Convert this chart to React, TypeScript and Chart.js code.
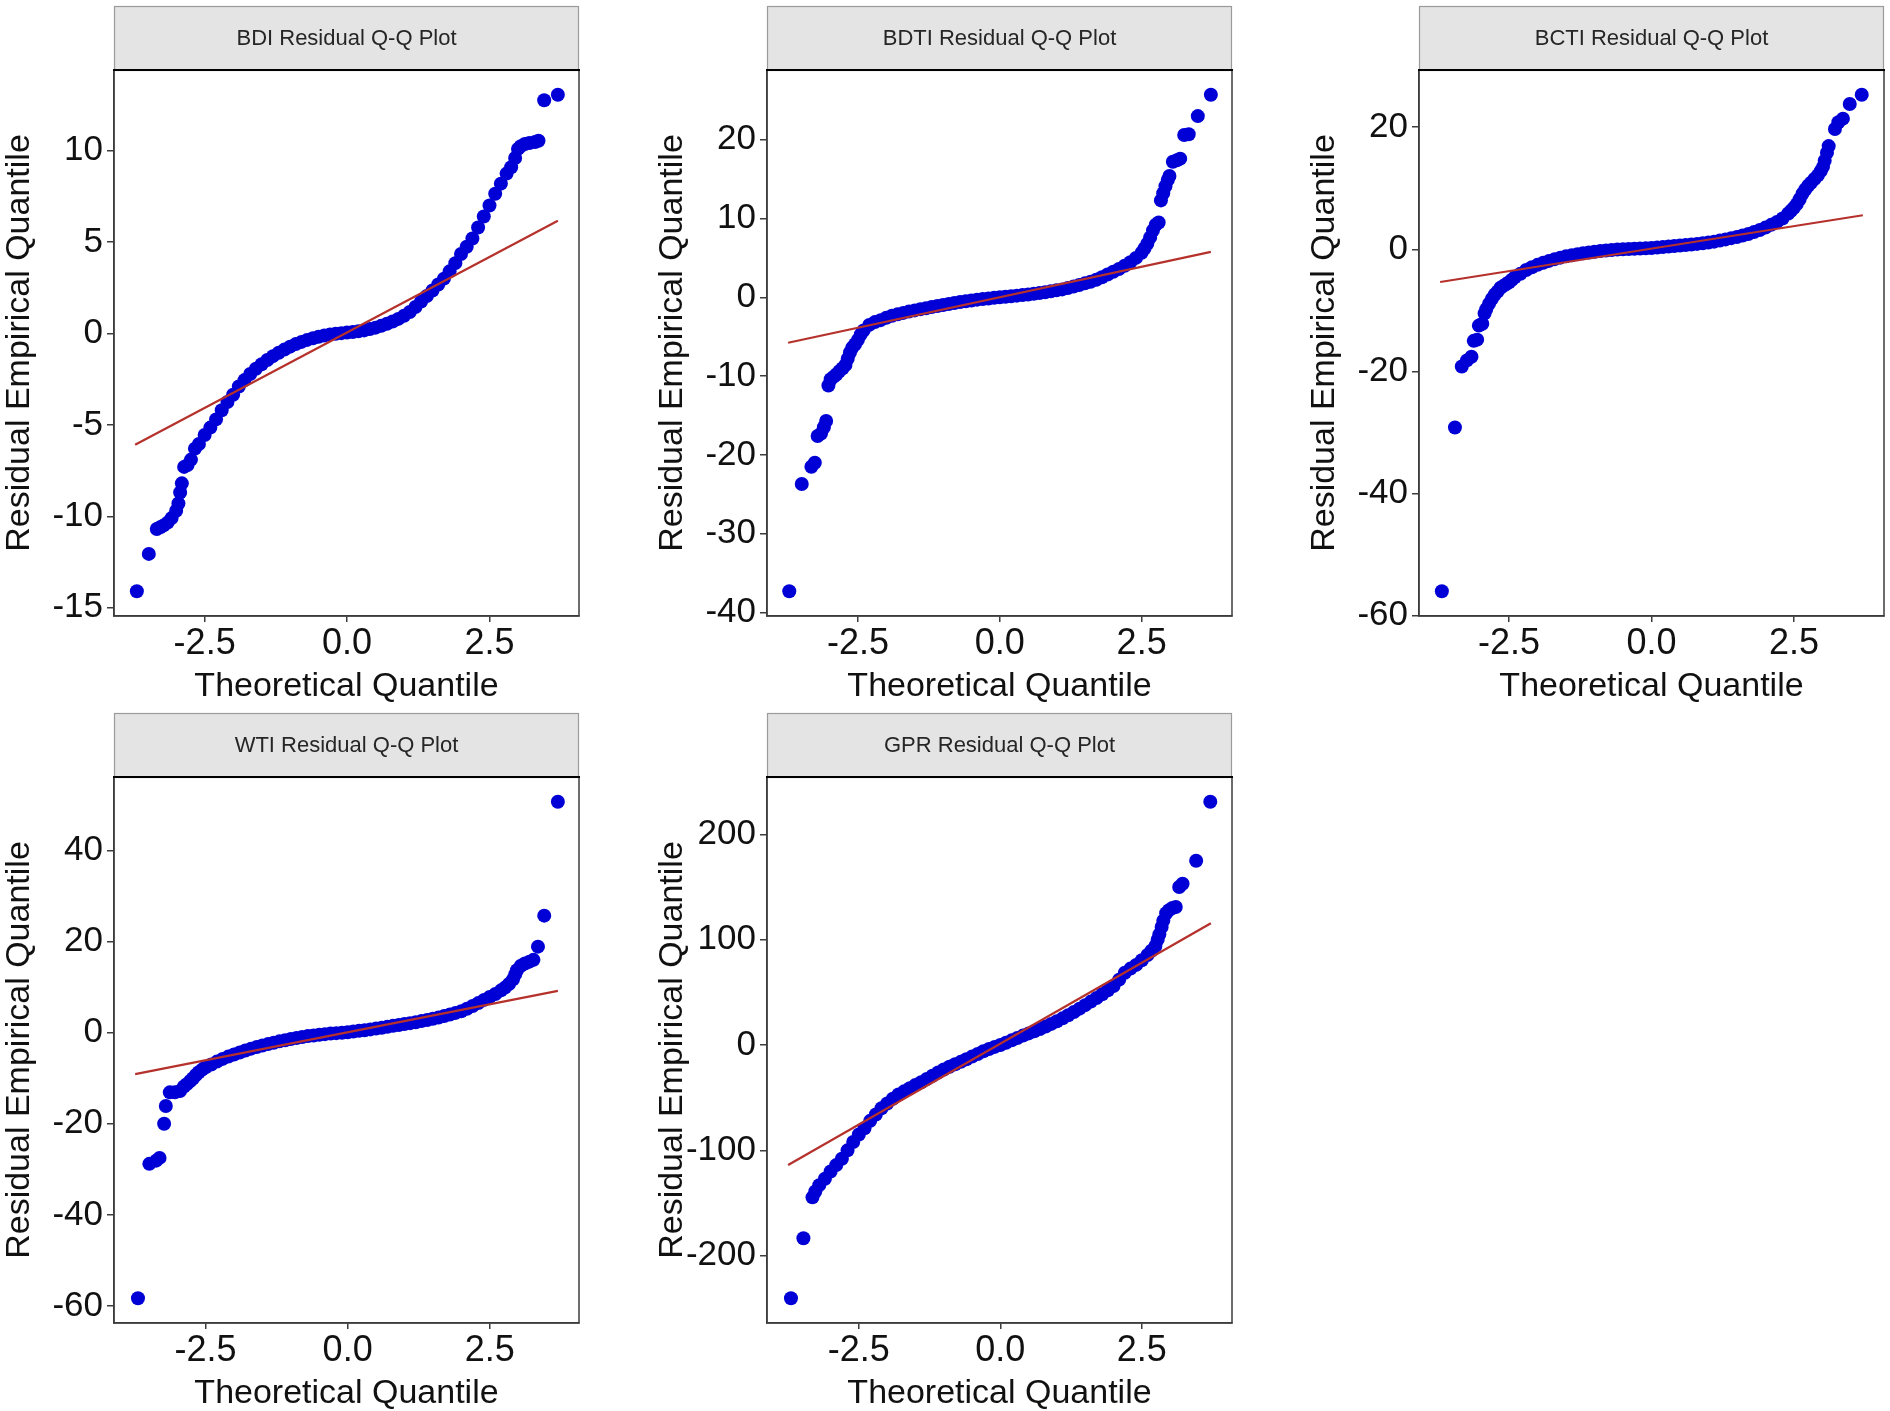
import React, { useRef, useEffect } from 'react';
import { Chart, registerables } from 'chart.js';

Chart.register(...registerables);

const FONT = '"Liberation Sans", Arial, Helvetica, sans-serif';

// shared x ticks
const xTicks = [-2.5, 0, 2.5];

// BDI
const bdiQ = [
    -3.69, -3.48, -3.34, -3.28, -3.22, -3.15, -3.08, -3.0, -2.96, -2.93, -2.9, -2.86, -2.8, -2.74, -2.67, -2.6,
    -2.5, -2.4, -2.3, -2.2, -2.1, -2.0, -1.9, -1.8, -1.7, -1.6, -1.5, -1.4, -1.3, -1.2, -1.1, -1.0,
    -0.9, -0.8, -0.7, -0.6, -0.5, -0.4, -0.3, -0.2, -0.1, 0.0, 0.1, 0.2, 0.3, 0.4, 0.5, 0.6, 0.7, 0.8, 0.9,
    1.0, 1.1, 1.2, 1.3, 1.4, 1.5, 1.6, 1.7, 1.8, 1.9, 2.0, 2.1, 2.2, 2.3, 2.4, 2.5,
    2.6, 2.7, 2.8, 2.88, 2.95, 3.0, 3.05, 3.12, 3.2, 3.3, 3.36, 3.46, 3.7,
];
const bdiR = [
    -14.1, -12.06, -10.7, -10.6, -10.5, -10.35, -10.1, -9.7, -9.3, -8.7, -8.2, -7.3, -7.2, -6.9, -6.3, -6.05,
    -5.55, -5.15, -4.7, -4.2, -3.75, -3.35, -2.9, -2.55, -2.22, -1.93, -1.68, -1.45, -1.24, -1.05, -0.88, -0.72,
    -0.58, -0.46, -0.35, -0.26, -0.18, -0.11, -0.05, -0.01, 0.02, 0.05, 0.08, 0.12, 0.17, 0.24, 0.32, 0.42, 0.53, 0.66, 0.8,
    0.97, 1.18, 1.45, 1.75, 2.05, 2.35, 2.68, 3.0, 3.4, 3.85, 4.35, 4.75, 5.2, 5.8, 6.4, 7.0,
    7.65, 8.2, 8.75, 9.1, 9.6, 10.1, 10.25, 10.37, 10.42, 10.48, 10.55, 12.76, 13.06,
];
const bdiLineQ = [-3.72, 3.7];
const bdiLineR = [-6.09, 6.17];
const bdiTicks = [-15, -10, -5, 0, 5, 10];

// BDTI
const bdtiQ = [
    -3.71, -3.49, -3.32, -3.26, -3.21, -3.15, -3.1, -3.06, -3.02, -2.98, -2.93, -2.88, -2.83, -2.77, -2.72, -2.68,
    -2.64, -2.6, -2.55, -2.5, -2.45, -2.4, -2.3, -2.2, -2.1, -2.0, -1.9, -1.8, -1.7, -1.6, -1.5, -1.4, -1.3, -1.2, -1.1, -1.0,
    -0.9, -0.8, -0.7, -0.6, -0.5, -0.4, -0.3, -0.2, -0.1, 0.0, 0.1, 0.2, 0.3, 0.4, 0.5, 0.6, 0.7, 0.8, 0.9,
    1.0, 1.1, 1.2, 1.3, 1.4, 1.5, 1.6, 1.7, 1.8, 1.9, 2.0, 2.1, 2.2, 2.3, 2.4, 2.5,
    2.55, 2.6, 2.65, 2.7, 2.75, 2.8, 2.84, 2.88, 2.92, 2.96, 2.99, 3.05, 3.12, 3.18, 3.25, 3.33, 3.49, 3.72,
];
const bdtiR = [
    -37.3, -23.7, -21.5, -21.0, -17.6, -17.3, -16.5, -15.7, -11.2, -10.4, -10.1, -9.8, -9.4, -9.0, -8.6, -7.8,
    -7.0, -6.4, -5.95, -5.4, -4.7, -4.2, -3.5, -3.15, -2.9, -2.6, -2.35, -2.15, -1.98, -1.8, -1.66, -1.52, -1.38, -1.24, -1.1, -0.97,
    -0.85, -0.72, -0.6, -0.5, -0.4, -0.3, -0.22, -0.15, -0.07, 0.0, 0.07, 0.14, 0.21, 0.28, 0.36, 0.45, 0.55, 0.65, 0.76,
    0.88, 1.0, 1.18, 1.37, 1.56, 1.77, 1.98, 2.22, 2.55, 2.9, 3.25, 3.6, 4.0, 4.45, 5.0, 5.65,
    6.2, 6.8, 7.6, 8.5, 9.2, 9.5, 12.3, 13.2, 14.1, 14.9, 15.4, 17.2, 17.4, 17.6, 20.6, 20.7, 23.0, 25.7,
];
const bdtiLineQ = [-3.73, 3.72];
const bdtiLineR = [-5.77, 5.77];
const bdtiTicks = [-40, -30, -20, -10, 0, 10, 20];

// BCTI
const bctiQ = [
    -3.68, -3.45, -3.33, -3.24, -3.16, -3.12, -3.06, -3.03, -2.97, -2.93, -2.9, -2.85, -2.8, -2.75, -2.7, -2.65,
    -2.6, -2.55, -2.5, -2.45, -2.4, -2.3, -2.2, -2.1, -2.0, -1.9, -1.8, -1.7, -1.6, -1.5, -1.4, -1.3, -1.2, -1.1, -1.0,
    -0.9, -0.8, -0.7, -0.6, -0.5, -0.4, -0.3, -0.2, -0.1, 0.0, 0.1, 0.2, 0.3, 0.4, 0.5, 0.6, 0.7, 0.8, 0.9,
    1.0, 1.1, 1.2, 1.3, 1.4, 1.5, 1.6, 1.7, 1.8, 1.9, 2.0, 2.1, 2.2, 2.3, 2.4, 2.45, 2.5,
    2.55, 2.6, 2.65, 2.7, 2.75, 2.8, 2.86, 2.92, 2.97, 3.01, 3.04, 3.08, 3.11, 3.22, 3.28, 3.36, 3.48, 3.69,
];
const bctiR = [
    -56.0, -29.2, -19.2, -18.2, -17.6, -15.0, -14.8, -12.5, -12.2, -10.5, -9.8, -8.9, -8.1, -7.4, -6.9, -6.3,
    -6.0, -5.7, -5.4, -5.0, -4.6, -4.0, -3.4, -2.95, -2.55, -2.2, -1.9, -1.62, -1.37, -1.15, -0.97, -0.8, -0.65, -0.52, -0.4,
    -0.3, -0.2, -0.12, -0.05, 0.0, 0.04, 0.08, 0.12, 0.17, 0.22, 0.29, 0.36, 0.44, 0.52, 0.6, 0.69, 0.78, 0.88, 0.98,
    1.1, 1.25, 1.43, 1.62, 1.82, 2.02, 2.25, 2.5, 2.82, 3.15, 3.55, 4.0, 4.45, 5.05, 5.85, 6.3, 6.8,
    7.4, 8.2, 9.1, 9.8, 10.4, 10.9, 11.5, 12.1, 12.8, 13.5, 14.5, 15.8, 16.9, 19.7, 20.8, 21.4, 23.8, 25.3,
];
const bctiLineQ = [-3.71, 3.71];
const bctiLineR = [-5.36, 5.58];
const bctiTicks = [-60, -40, -20, 0, 20];

// WTI
const wtiQ = [
    -3.69, -3.49, -3.37, -3.31, -3.23, -3.2, -3.13, -3.04, -2.95, -2.88, -2.83, -2.77, -2.72, -2.67, -2.62, -2.56,
    -2.5, -2.4, -2.3, -2.2, -2.1, -2.0, -1.9, -1.8, -1.7, -1.6, -1.5, -1.4, -1.3, -1.2, -1.1, -1.0,
    -0.9, -0.8, -0.7, -0.6, -0.5, -0.4, -0.3, -0.2, -0.1, 0.0, 0.1, 0.2, 0.3, 0.4, 0.5, 0.6, 0.7, 0.8, 0.9,
    1.0, 1.1, 1.2, 1.3, 1.4, 1.5, 1.6, 1.7, 1.8, 1.9, 2.0, 2.1, 2.2, 2.3, 2.4, 2.5,
    2.6, 2.7, 2.77, 2.84, 2.91, 2.95, 2.98, 3.05, 3.12, 3.2, 3.27, 3.35, 3.46, 3.7,
];
const wtiR = [
    -58.3, -28.8, -28.1, -27.5, -20.0, -16.1, -13.1, -13.1, -12.8, -11.8, -11.3, -10.6, -10.0, -9.3, -8.7, -8.1,
    -7.6, -7.0, -6.35, -5.75, -5.25, -4.8, -4.35, -3.9, -3.5, -3.15, -2.8, -2.5, -2.2, -1.9, -1.65, -1.4,
    -1.15, -0.95, -0.75, -0.6, -0.45, -0.32, -0.2, -0.1, 0.0, 0.1, 0.25, 0.4, 0.55, 0.72, 0.9, 1.1, 1.3, 1.5, 1.7,
    1.9, 2.1, 2.3, 2.55, 2.8, 3.05, 3.35, 3.65, 4.0, 4.35, 4.7, 5.25, 5.85, 6.5, 7.2, 7.85,
    8.5, 9.3, 9.9, 10.7, 11.7, 12.8, 13.7, 14.7, 15.2, 15.6, 16.0, 18.9, 25.7, 50.7,
];
const wtiLineQ = [-3.74, 3.7];
const wtiLineR = [-9.1, 9.2];
const wtiTicks = [-60, -40, -20, 0, 20, 40];

// GPR
const gprQ = [
    -3.7, -3.48, -3.32, -3.27, -3.2, -3.1, -3.0, -2.9, -2.8, -2.7, -2.6,
    -2.5, -2.4, -2.3, -2.2, -2.1, -2.0, -1.9, -1.8, -1.7, -1.6, -1.5, -1.4, -1.3, -1.2, -1.1, -1.0,
    -0.9, -0.8, -0.7, -0.6, -0.5, -0.4, -0.3, -0.2, -0.1, 0.0, 0.1, 0.2, 0.3, 0.4, 0.5, 0.6, 0.7, 0.8, 0.9,
    1.0, 1.1, 1.2, 1.3, 1.4, 1.5, 1.6, 1.7, 1.8, 1.9, 2.0, 2.1, 2.2, 2.3, 2.4, 2.5,
    2.6, 2.67, 2.74, 2.78, 2.81, 2.85, 2.88, 2.93, 2.98, 3.04, 3.1, 3.16, 3.22, 3.46, 3.71,
];
const gprR = [
    -240.3, -183.4, -144.6, -139, -133, -127, -120, -114, -108, -100, -92,
    -85, -79, -72, -66, -60, -55.5, -51, -47, -44, -41, -38, -35.4, -32.3, -29.2, -26.1, -23.2,
    -20.6, -18.3, -16, -13.5, -11, -8.5, -6, -3.8, -1.8, 0, 2.2, 4.4, 6.6, 8.9, 11, 13, 15.1, 17.6, 20,
    22.6, 25.3, 28.2, 31.3, 34.5, 37.8, 41.2, 44.6, 48.2, 52, 56, 62, 68.5, 72.5, 76, 80.5,
    85.4, 89.5, 94, 100, 105, 112, 118, 125, 128, 130, 131, 150, 153, 174.8, 230.8,
];
const gprLineQ = [-3.75, 3.72];
const gprLineR = [-113.9, 115.6];
const gprTicks = [-200, -100, 0, 100, 200];

const CANVAS_W = 586;
const CANVAS_H = 704;
const STRIP_TOP = 6;
const PLOT_TOP = 70;

type PanelProps = {
    title: string;
    q: number[];
    r: number[];
    lineQ: number[];
    lineR: number[];
    yTicks: number[];
    left: number;
    top: number;
};

const QQPanel: React.FC<PanelProps> = ({ title, q, r, lineQ, lineR, yTicks, left, top }) => {
    const chartRef = useRef<HTMLCanvasElement | null>(null);

    useEffect(() => {
        if (!chartRef.current) return;
        const ctx = chartRef.current.getContext('2d');
        if (!ctx) return;

        // ggplot-like 5% expansion around the data
        const allQ = [...q, ...lineQ];
        const allR = [...r, ...lineR];
        const qMin = Math.min(...allQ), qMax = Math.max(...allQ);
        const rMin = Math.min(...allR), rMax = Math.max(...allR);
        const qPad = (qMax - qMin) * 0.05;
        const rPad = (rMax - rMin) * 0.05;

        const stripPlugin = {
            id: 'facetStrip',
            afterDraw(chart: Chart) {
                const a = chart.chartArea;
                const c = chart.ctx;
                c.save();
                c.fillStyle = '#e4e4e4';
                c.fillRect(a.left, STRIP_TOP, a.right - a.left, a.top - STRIP_TOP);
                c.strokeStyle = '#9b9b9b';
                c.lineWidth = 1.2;
                c.strokeRect(a.left + 0.5, STRIP_TOP + 0.5, a.right - a.left - 1, a.top - STRIP_TOP);
                c.fillStyle = '#262626';
                c.font = `22px ${FONT}`;
                c.textAlign = 'center';
                c.textBaseline = 'middle';
                c.fillText(title, (a.left + a.right) / 2, (STRIP_TOP + a.top) / 2 + 1);
                // panel frame
                c.strokeStyle = '#3c3c3c';
                c.lineWidth = 1.5;
                c.strokeRect(a.left, a.top, a.right - a.left, a.bottom - a.top);
                c.strokeStyle = '#000';
                c.lineWidth = 2;
                c.beginPath();
                c.moveTo(a.left - 1, a.top);
                c.lineTo(a.right + 1, a.top);
                c.stroke();
                c.restore();
            },
        };

        const chart = new Chart(ctx, {
            type: 'scatter',
            data: {
                datasets: [
                    {
                        label: 'qq line',
                        data: lineQ.map((x, i) => ({ x, y: lineR[i] })),
                        showLine: true,
                        borderColor: '#b5312c',
                        borderWidth: 2.2,
                        pointRadius: 0,
                        order: 0,
                    },
                    {
                        label: 'residuals',
                        data: q.map((x, i) => ({ x, y: r[i] })),
                        backgroundColor: '#0000d6',
                        borderWidth: 0,
                        pointRadius: 7,
                        pointHoverRadius: 7,
                        order: 1,
                    },
                ],
            },
            options: {
                animation: false,
                responsive: false,
                maintainAspectRatio: false,
                layout: { padding: { top: PLOT_TOP, right: 5, left: 0, bottom: 0 } },
                plugins: {
                    legend: { display: false },
                    tooltip: { enabled: false },
                },
                scales: {
                    x: {
                        type: 'linear',
                        min: qMin - qPad,
                        max: qMax + qPad,
                        afterBuildTicks: (axis: any) => {
                            axis.ticks = xTicks.map((v) => ({ value: v }));
                        },
                        afterFit: (axis: any) => {
                            axis.height = CANVAS_H - PLOT_TOP - 546;
                        },
                        grid: { drawOnChartArea: false, drawTicks: true, tickLength: 6, color: '#3c3c3c', lineWidth: 1.5 },
                        border: { display: true, color: '#3c3c3c', width: 1.5 },
                        ticks: {
                            font: { family: FONT, size: 36 },
                            color: '#111',
                            padding: 0,
                            maxRotation: 0,
                            autoSkip: false,
                            callback: (v: any) => Number(v).toFixed(1),
                        },
                        title: {
                            display: true,
                            text: 'Theoretical Quantile',
                            font: { family: FONT, size: 34, lineHeight: 1.0 },
                            color: '#111',
                            padding: { top: 0, bottom: 0 },
                        },
                    },
                    y: {
                        type: 'linear',
                        min: rMin - rPad,
                        max: rMax + rPad,
                        afterBuildTicks: (axis: any) => {
                            axis.ticks = yTicks.map((v) => ({ value: v }));
                        },
                        afterFit: (axis: any) => {
                            axis.width = 114;
                        },
                        grid: { drawOnChartArea: false, drawTicks: true, tickLength: 7, color: '#3c3c3c', lineWidth: 1.5 },
                        border: { display: true, color: '#3c3c3c', width: 1.5 },
                        ticks: {
                            font: { family: FONT, size: 35 },
                            color: '#111',
                            padding: 4,
                            autoSkip: false,
                            callback: (v: any) => String(v),
                        },
                        title: {
                            display: true,
                            text: 'Residual Empirical Quantile',
                            font: { family: FONT, size: 34, lineHeight: 1.15 },
                            color: '#111',
                            padding: { top: 0, bottom: 0 },
                        },
                    },
                },
            },
            plugins: [stripPlugin],
        });

        return () => {
            chart.destroy();
        };
    }, [title, q, r, lineQ, lineR, yTicks]);

    return (
        <canvas
            ref={chartRef}
            width={CANVAS_W}
            height={CANVAS_H}
            style={{ position: 'absolute', left, top, width: CANVAS_W, height: CANVAS_H }}
        />
    );
};

const App: React.FC = () => {
    return (
        <div style={{ position: 'absolute', left: 0, top: 0, width: 1890, height: 1411, background: '#fff', overflow: 'hidden' }}>
            <QQPanel title="BDI Residual Q-Q Plot" q={bdiQ} r={bdiR} lineQ={bdiLineQ} lineR={bdiLineR} yTicks={bdiTicks} left={0} top={0} />
            <QQPanel title="BDTI Residual Q-Q Plot" q={bdtiQ} r={bdtiR} lineQ={bdtiLineQ} lineR={bdtiLineR} yTicks={bdtiTicks} left={653} top={0} />
            <QQPanel title="BCTI Residual Q-Q Plot" q={bctiQ} r={bctiR} lineQ={bctiLineQ} lineR={bctiLineR} yTicks={bctiTicks} left={1305} top={0} />
            <QQPanel title="WTI Residual Q-Q Plot" q={wtiQ} r={wtiR} lineQ={wtiLineQ} lineR={wtiLineR} yTicks={wtiTicks} left={0} top={707} />
            <QQPanel title="GPR Residual Q-Q Plot" q={gprQ} r={gprR} lineQ={gprLineQ} lineR={gprLineR} yTicks={gprTicks} left={653} top={707} />
        </div>
    );
};

export default App;
